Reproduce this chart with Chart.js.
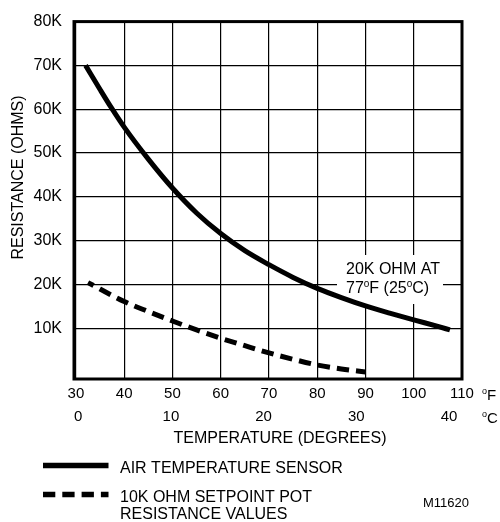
<!DOCTYPE html>
<html>
<head>
<meta charset="utf-8">
<script src="https://cdn.jsdelivr.net/npm/chart.js@4.4.0/dist/chart.umd.min.js"></script>
<style>
  html, body { margin: 0; padding: 0; background: #fff; }
  #wrap { width: 500px; height: 522px; }
</style>
</head>
<body>
<div id="wrap"><canvas id="chart" width="500" height="522"></canvas></div>
<script>
const FONT = '"Liberation Sans", Arial, Helvetica, sans-serif';

// air temperature sensor (20K NTC), temp in degF -> ohms
const airTempF = [32, 35, 37.3, 40, 45, 50, 55, 60, 65, 70, 75, 80, 85, 90, 95, 100, 105, 107.5];
const airOhms  = [70000, 64500, 60400, 55900, 48600, 42000, 36300, 31600, 27700, 24500, 21600, 19100, 17000, 15100, 13450, 11900, 10400, 9600];

// 10K setpoint pot resistance values
const potTempF = [32.5, 40, 45, 50, 55, 60, 65, 70, 75, 80, 85, 90];
const potOhms  = [20400, 16100, 13800, 11650, 9600, 7700, 6000, 4350, 2900, 1600, 700, 0];

// tick labels
const fTicks   = [30, 40, 50, 60, 70, 80, 90, 100, 110];
const cTicks   = [0, 10, 20, 30, 40];
const ohmTicks = [10000, 20000, 30000, 40000, 50000, 60000, 70000, 80000];

const seriesNames = ['AIR TEMPERATURE SENSOR', ['10K OHM SETPOINT POT', 'RESISTANCE VALUES']];

const toXY = (xs, ys) => xs.map((x, i) => ({ x, y: ys[i] }));

// text with raised small "o" for the degree marks
function richText(ctx, parts, x, y, size) {
    parts.forEach(([t, sup]) => {
        ctx.font = (sup ? Math.round(size * 0.62) : size) + 'px ' + FONT;
        ctx.fillText(t, x, sup ? y - size * 0.38 : y);
        x += ctx.measureText(t).width;
    });
}

const gridOpts = { color: '#000', lineWidth: 1.2, drawTicks: false };

const decor = {
    id: 'decor',
    beforeDatasetsDraw(chart) {
        const { ctx, chartArea: a } = chart;
        ctx.save();
        // white patch behind the 20K note (cuts the grid)
        ctx.fillStyle = '#fff';
        ctx.fillRect(337, 255, 106, 49);
        // frame
        ctx.strokeStyle = '#000';
        ctx.lineWidth = 3;
        ctx.strokeRect(a.left, a.top, a.right - a.left, a.bottom - a.top);
        ctx.restore();
    },
    afterDraw(chart) {
        const { ctx } = chart;
        ctx.save();
        ctx.fillStyle = '#000';
        ctx.textBaseline = 'alphabetic';
        ctx.textAlign = 'left';

        // note
        ctx.font = '16px ' + FONT;
        ctx.fillText('20K OHM AT', 346, 274);
        richText(ctx, [['77'], ['o', 1], ['F (25'], ['o', 1], ['C)']], 346, 293, 16);

        // units
        richText(ctx, [['o', 1], ['F']], 482, 399.5, 15);
        richText(ctx, [['o', 1], ['C']], 482, 423, 15);

        // axis titles
        ctx.font = '16px ' + FONT;
        ctx.textAlign = 'center';
        ctx.fillText('TEMPERATURE (DEGREES)', 280, 443);
        ctx.save();
        ctx.translate(19, 177.5);
        ctx.rotate(-Math.PI / 2);
        ctx.textBaseline = 'middle';
        ctx.fillText('RESISTANCE (OHMS)', 0, 0);
        ctx.restore();

        // legend
        const rows = [[465.5, [472.5]], [494.5, [501.5, 518.5]]];
        chart.data.datasets.forEach((ds, i) => {
            const [ly, tys] = rows[i];
            ctx.save();
            ctx.strokeStyle = ds.borderColor;
            ctx.lineWidth = ds.borderWidth + 0.5;
            ctx.setLineDash(ds.borderDash || []);
            ctx.beginPath();
            ctx.moveTo(43, ly);
            ctx.lineTo(108.5, ly);
            ctx.stroke();
            ctx.restore();
            const lines = [].concat(seriesNames[i]);
            ctx.font = '16px ' + FONT;
            ctx.textAlign = 'left';
            lines.forEach((t, k) => ctx.fillText(t, 120, tys[k]));
        });

        ctx.font = '13px ' + FONT;
        ctx.fillText('M11620', 423, 506.5);
        ctx.restore();
    }
};

new Chart(document.getElementById('chart'), {
    type: 'scatter',
    data: {
        datasets: [{
            label: 'AIR TEMPERATURE SENSOR',
            data: toXY(airTempF, airOhms),
            showLine: true,
            borderColor: '#000',
            borderWidth: 5,
            pointRadius: 0,
            cubicInterpolationMode: 'monotone',
            borderCapStyle: 'butt',
            xAxisID: 'x', yAxisID: 'y'
        }, {
            label: '10K OHM SETPOINT POT RESISTANCE VALUES',
            data: toXY(potTempF, potOhms),
            showLine: true,
            borderColor: '#000',
            borderWidth: 5,
            borderDash: [12.3, 7],
            borderDashOffset: 6,
            pointRadius: 0,
            cubicInterpolationMode: 'monotone',
            borderCapStyle: 'butt',
            xAxisID: 'x', yAxisID: 'y'
        }]
    },
    options: {
        responsive: false,
        animation: false,
        devicePixelRatio: 1,
        layout: { padding: { left: 0, top: 14, right: 38, bottom: 87 } },
        plugins: { legend: { display: false }, tooltip: { enabled: false } },
        scales: {
            x: {
                type: 'linear', position: 'bottom', weight: 0,
                min: 29.6, max: 110,
                afterBuildTicks: s => { s.ticks = fTicks.map(v => ({ value: v })); },
                afterFit: s => { s.height = 26; },
                grid: gridOpts,
                border: { display: false },
                ticks: { color: '#000', font: { family: FONT, size: 15 }, padding: 6, maxRotation: 0, autoSkip: false }
            },
            xC: {
                type: 'linear', position: 'bottom', weight: 1,
                min: -0.45, max: 41.4,
                afterBuildTicks: s => { s.ticks = cTicks.map(v => ({ value: v })); },
                afterFit: s => { s.height = 30; },
                grid: { display: false, drawTicks: false },
                border: { display: false },
                ticks: { color: '#000', font: { family: FONT, size: 15 }, padding: 3, maxRotation: 0, autoSkip: false }
            },
            y: {
                type: 'linear', position: 'left',
                min: -1600, max: 80000,
                afterBuildTicks: s => { s.ticks = ohmTicks.map(v => ({ value: v })); },
                afterFit: s => { s.width = 74; },
                grid: gridOpts,
                border: { display: false },
                ticks: {
                    color: '#000', font: { family: FONT, size: 16 }, padding: 12, autoSkip: false,
                    callback: v => (v / 1000) + 'K'
                }
            }
        }
    },
    plugins: [decor]
});
</script>
</body>
</html>
